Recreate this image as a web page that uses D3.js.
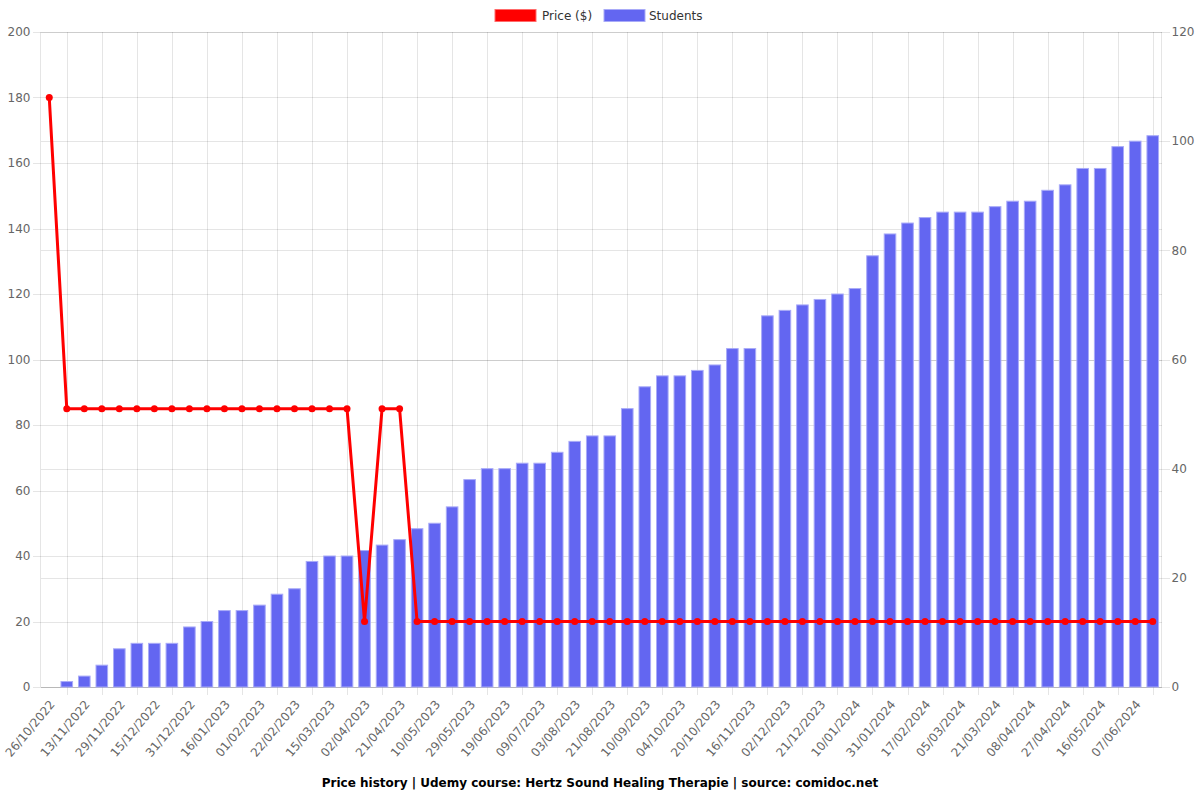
<!DOCTYPE html>
<html>
<head>
<meta charset="utf-8">
<script src="https://cdn.jsdelivr.net/npm/d3@7/dist/d3.min.js"></script>
<style>
  html, body { margin: 0; padding: 0; background: #fff; }
  svg { display: block; font-family: "DejaVu Sans", sans-serif; }
</style>
</head>
<body>
<svg id="chart" width="1200" height="800"></svg>
<script>
// ---- data ----
const tickLabels = ["26/10/2022","13/11/2022","29/11/2022","15/12/2022","31/12/2022","16/01/2023","01/02/2023","22/02/2023","15/03/2023","02/04/2023","21/04/2023","10/05/2023","29/05/2023","19/06/2023","09/07/2023","03/08/2023","21/08/2023","10/09/2023","04/10/2023","20/10/2023","16/11/2023","02/12/2023","21/12/2023","10/01/2024","31/01/2024","17/02/2024","05/03/2024","21/03/2024","08/04/2024","27/04/2024","16/05/2024","07/06/2024"];
const price = [180,85,85,85,85,85,85,85,85,85,85,85,85,85,85,85,85,85,20,85,85,20,20,20,20,20,20,20,20,20,20,20,20,20,20,20,20,20,20,20,20,20,20,20,20,20,20,20,20,20,20,20,20,20,20,20,20,20,20,20,20,20,20,20];
const students = [0,1,2,4,7,8,8,8,11,12,14,14,15,17,18,23,24,24,25,26,27,29,30,33,38,40,40,41,41,43,45,46,46,51,55,57,57,58,59,62,62,68,69,70,71,72,73,79,83,85,86,87,87,87,88,89,89,91,92,95,95,99,100,101];
const leftTicks = [0,20,40,60,80,100,120,140,160,180,200];
const rightTicks = [0,20,40,60,80,100,120];
const seriesNames = ["Price ($)", "Students"];
const titleText = "Price history | Udemy course: Hertz Sound Healing Therapie | source: comidoc.net";

// ---- layout ----
const L = 40.5, R = 1161.5, T = 32, B = 687;
const gridColor = "rgba(0,0,0,0.1)";
const textColor = "#666";
const barColor = "#6366f1";
const lineColor = "#ff0000";

const svg = d3.select("#chart");
const n = price.length;
const x = d3.scaleBand().domain(d3.range(n)).range([L, R]).padding(0);
const cx = i => x(i) + x.bandwidth() / 2;
const yL = d3.scaleLinear().domain([0, 200]).range([B, T]);
const yR = d3.scaleLinear().domain([0, 120]).range([B, T]);

// ---- grid ----
const grid = svg.append("g").attr("shape-rendering", "crispEdges");
const vIdx = d3.range(1, n, 2);
grid.selectAll(".vg").data(vIdx).enter().append("line")
  .attr("x1", d => Math.round(cx(d)) + 0.5).attr("x2", d => Math.round(cx(d)) + 0.5)
  .attr("y1", T).attr("y2", B + 8)
  .attr("stroke", gridColor);
grid.selectAll(".hl").data(leftTicks).enter().append("line")
  .attr("x1", L - 8).attr("x2", R)
  .attr("y1", d => Math.round(yL(d)) + 0.5).attr("y2", d => Math.round(yL(d)) + 0.5)
  .attr("stroke", gridColor);
grid.selectAll(".hr").data(rightTicks).enter().append("line")
  .attr("x1", L).attr("x2", R + 8)
  .attr("y1", d => Math.round(yR(d)) + 0.5).attr("y2", d => Math.round(yR(d)) + 0.5)
  .attr("stroke", gridColor);
grid.append("line").attr("x1", L).attr("x2", L).attr("y1", T).attr("y2", B).attr("stroke", gridColor);
grid.append("line").attr("x1", R).attr("x2", R).attr("y1", T).attr("y2", B).attr("stroke", gridColor);
grid.append("line").attr("x1", L).attr("x2", R).attr("y1", B + 0.5).attr("y2", B + 0.5).attr("stroke", gridColor);

// ---- axis labels ----
svg.append("g").selectAll("text").data(leftTicks).enter().append("text")
  .attr("x", L - 10).attr("y", d => yL(d)).attr("dy", "0.35em")
  .attr("text-anchor", "end").attr("font-size", 12).attr("fill", textColor)
  .text(d => d);
svg.append("g").selectAll("text").data(rightTicks).enter().append("text")
  .attr("x", R + 10).attr("y", d => yR(d)).attr("dy", "0.35em")
  .attr("text-anchor", "start").attr("font-size", 12).attr("fill", textColor)
  .text(d => d);
svg.append("g").selectAll("text").data(tickLabels).enter().append("text")
  .attr("transform", (d, k) => `translate(${cx(2 * k) + 3},${B + 15}) rotate(-50)`)
  .attr("dy", "0.35em")
  .attr("text-anchor", "end").attr("font-size", 12).attr("fill", textColor)
  .text(d => d);

// ---- bars ----
const bw = 11.6;
svg.append("g").selectAll("rect").data(students).enter().append("rect")
  .attr("x", (d, i) => cx(i) - bw / 2)
  .attr("width", bw)
  .attr("y", d => yR(d))
  .attr("height", d => Math.max(0, B - yR(d)))
  .attr("fill", barColor)
  .attr("stroke", "#a9abf8")
  .attr("stroke-width", 1);

// ---- price line ----
const line = d3.line().x((d, i) => cx(i)).y(d => yL(d));
svg.append("path").datum(price)
  .attr("d", line).attr("fill", "none")
  .attr("stroke", lineColor).attr("stroke-width", 3).attr("stroke-linejoin", "miter");
svg.append("g").selectAll("circle").data(price).enter().append("circle")
  .attr("cx", (d, i) => cx(i)).attr("cy", d => yL(d)).attr("r", 3.5)
  .attr("fill", lineColor);

// ---- legend ----
const legend = svg.append("g");
const legendItems = [
  { name: seriesNames[0], color: lineColor, stroke: "#ff6b6b", x: 495, tx: 542 },
  { name: seriesNames[1], color: barColor, stroke: "#a9abf8", x: 604, tx: 649 }
];
legend.selectAll("rect").data(legendItems).enter().append("rect")
  .attr("x", d => d.x).attr("y", 9.5).attr("width", 41).attr("height", 12)
  .attr("fill", d => d.color).attr("stroke", d => d.stroke);
legend.selectAll("text").data(legendItems).enter().append("text")
  .attr("x", d => d.tx).attr("y", 16).attr("dy", "0.35em")
  .attr("font-size", 12).attr("fill", "#333")
  .text(d => d.name);

// ---- title ----
svg.append("text").attr("x", 600).attr("y", 783).attr("dy", "0.35em")
  .attr("text-anchor", "middle").attr("font-size", 12).attr("font-weight", "bold")
  .attr("fill", "#000").text(titleText);
</script>
</body>
</html>
